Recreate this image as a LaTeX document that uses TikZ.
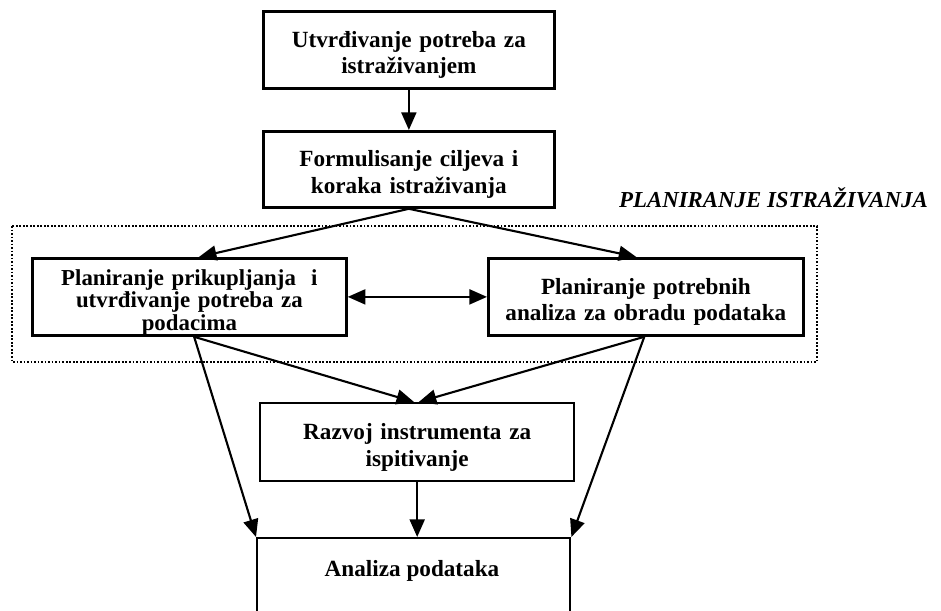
\documentclass[tikz,border=0pt]{standalone}
\usepackage{fontspec}
\setmainfont{Liberation Serif}
\usetikzlibrary{arrows.meta,calc}
\begin{document}
\begin{tikzpicture}[x=0.02cm,y=-0.02cm,
  >={Triangle[length=10pt,width=8.5pt]},
  txt/.style={font=\bfseries\fontsize{13.2}{15}\selectfont},
  box/.style={txt,draw,line width=1.6pt,rectangle,align=center,inner sep=0pt,anchor=north west,
    execute at begin node={\rule{0pt}{15pt}}},
  tightbox/.style={box,font=\bfseries\fontsize{13}{12.8}\selectfont,execute at begin node={}},
  conn/.style={line width=1.2pt,->},
  frame/.style={draw,densely dotted,line width=1pt}]
\useasboundingbox (0,0) rectangle (941,611);
\clip (0,0) rectangle (941,611);

% dotted frame around the planning stage
\draw[frame] (12,226) rectangle (817,362);
\node[font=\bfseries\itshape\fontsize{13}{15}\selectfont,anchor=base east] (plan) at (934,208) {PLANIRANJE ISTRAŽIVANJA};

% process boxes
\node[box,minimum width=5.82cm,text width=5.6cm,minimum height=1.54cm] (b1) at (262,10) {Utvrđivanje potreba za\\istraživanjem};
\node[box,minimum width=5.82cm,text width=5.6cm,minimum height=1.52cm] (b2) at (262,130) {Formulisanje ciljeva i\\koraka istraživanja};
\node[tightbox,minimum width=6.28cm,text width=6.1cm,minimum height=1.54cm] (lp) at (31,257) {Planiranje prikupljanja~~i\\utvrđivanje potreba za\\podacima};
\node[box,minimum width=6.3cm,text width=6.1cm,minimum height=1.54cm] (rp) at (487,257) {Planiranje potrebnih\\analiza za obradu podataka};
\node[box,line width=1.4pt,minimum width=6.28cm,text width=6.1cm,minimum height=1.56cm] (rz) at (259,402) {Razvoj instrumenta za\\ispitivanje};
\node[box,line width=1.4pt,minimum width=6.26cm,text width=6.1cm,minimum height=3.5cm] (an) at (256,537) {};
\node[txt,anchor=base] (antext) at (412,577) {Analiza podataka};

% connectors
\coordinate (lpo) at ($(lp.south west)!0.515!(lp.south east)$);
\coordinate (rpo) at ($(rp.south west)!0.495!(rp.south east)$);
\draw[conn] (b1.south) -- (b2.north);
\draw[conn] (b2.south) -- ($(lp.north west)!0.53!(lp.north east)$);
\draw[conn] (b2.south) -- ($(rp.north west)!0.47!(rp.north east)$);
\draw[line width=1.2pt,<->] (lp.east) -- (lp.east -| rp.west);
\draw[conn] (lpo) -- ($(rz.north west)!0.49!(rz.north east)$);
\draw[conn] (rpo) -- ($(rz.north west)!0.505!(rz.north east)$);
\draw[conn] (lpo) -- (an.north west);
\draw[conn] (rpo) -- (an.north east);
\draw[conn] (rz.south) -- (rz.south |- an.north);
\end{tikzpicture}
\end{document}
